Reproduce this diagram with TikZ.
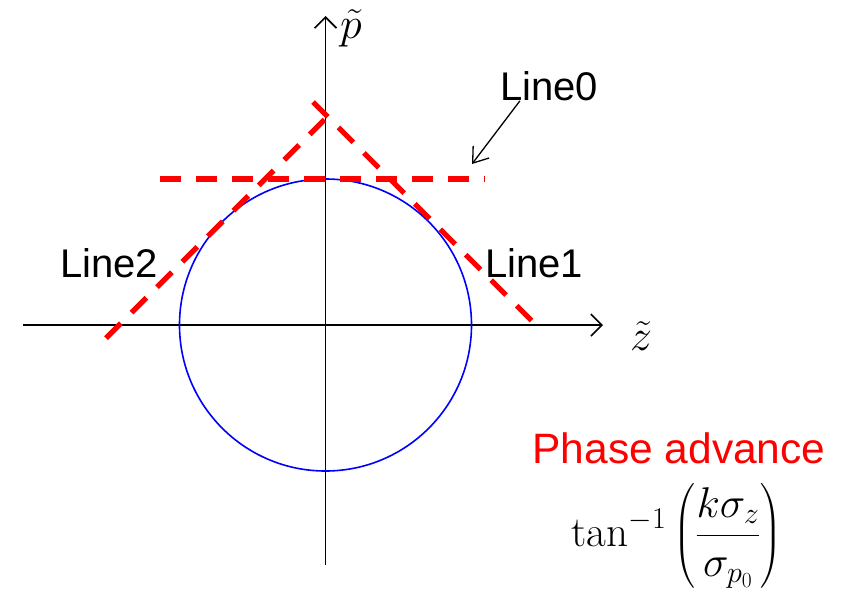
\documentclass[tikz,border=0pt]{standalone}
\usepackage{fix-cm}
\usepackage{amsmath}
\usepackage{fontspec}
\setsansfont{Liberation Sans}
\usetikzlibrary{arrows.meta}
\begin{document}
\begin{tikzpicture}[x=1pt,y=-1pt,
  axis/.style={line width=1.6pt, -{Straight Barb[length=11pt,width=22pt,line width=1.6pt]}},
  tangent/.style={red, line width=5.3pt, dash pattern=on 21pt off 15pt},
  lbl/.style={font=\sffamily\fontsize{40}{40}\selectfont, inner sep=0pt},
  mathlbl/.style={font=\fontsize{44}{44}\selectfont, inner sep=0pt},
  pointer/.style={line width=1.3pt, -{Straight Barb[length=14pt,width=20pt,line width=1.3pt]}}]
\useasboundingbox (0,0) rectangle (851,590);
% axes
\coordinate (O) at (325.5,325);
\coordinate (xl) at (23,325);
\coordinate (xr) at (603,325);
\coordinate (yb) at (325.5,565);
\coordinate (yt) at (325.5,16);
\draw[axis] (xl) -- (xr);
\draw[axis] (yb) -- (yt);
% circle
\draw[blue, line width=1.6pt] (O) circle [radius=146pt];
% tangent lines
\coordinate (l0a) at (160,179);
\coordinate (l0b) at (485,179);
\coordinate (l1a) at (313,102);
\coordinate (l1b) at (540,329);
\coordinate (l2a) at (106,338);
\coordinate (l2b) at (331,113);
\draw[tangent] (l0a) -- (l0b);
\draw[tangent] (l1a) -- (l1b);
\draw[tangent] (l2a) -- (l2b);
% labels
\node[lbl] (line0) at (549,86) {Line0};
\node[lbl] (line1) at (534,263) {Line1};
\node[lbl] (line2) at (109,263) {Line2};
\coordinate (tip) at (472,164);
\draw[pointer] (line0.south west) ++(20,0) coordinate (ptail) (ptail) -- (tip);
\node[mathlbl] (ptil) at (351,28) {$\tilde{p}$};
\node[mathlbl] (ztil) at (641,336) {$\tilde{z}$};
\node[lbl, text=red, font=\sffamily\fontsize{42.5}{42.5}\selectfont] (phase) at (679,448) {Phase advance};
\node[font=\fontsize{43}{43}\selectfont, inner sep=0pt] (formula) at (677,536)
  {$\displaystyle \tan^{-1}\left(\frac{k\sigma_z}{\sigma_{p_0}}\right)$};
\end{tikzpicture}
\end{document}
